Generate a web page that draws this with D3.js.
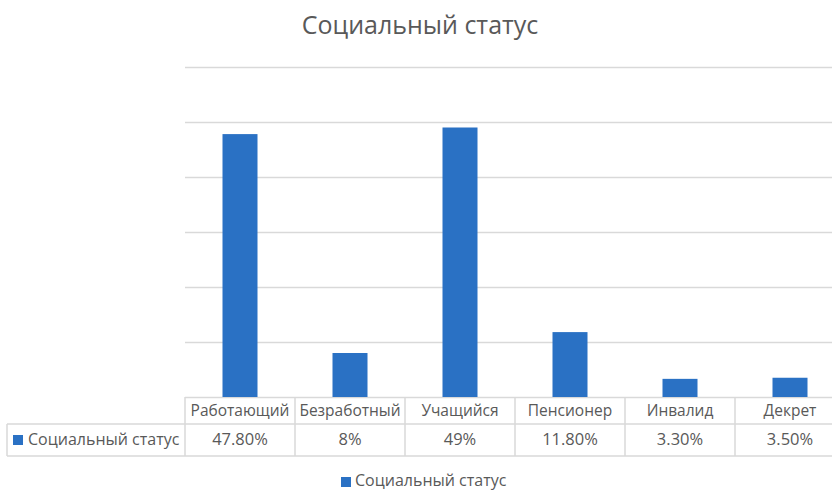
<!DOCTYPE html>
<html>
<head>
<meta charset="utf-8">
<script src="https://cdn.jsdelivr.net/npm/d3@7"></script>
<style>
body{margin:0;background:#fff;}
text{font-family:"Open Sans",Lato,sans-serif;fill:#595959;}
</style>
</head>
<body>
<div id="plot"></div>
<script>
var categories = ['Работающий','Безработный','Учащийся','Пенсионер','Инвалид','Декрет'];
var values = [47.8, 8, 49, 11.8, 3.3, 3.5];
var valueLabels = ['47.80%','8%','49%','11.80%','3.30%','3.50%'];
var seriesName = 'Социальный статус';
var yTicks = [0,10,20,30,40,50,60];

var W = 832, H = 490;
var m = {t:67, l:185, r:-13, b:93};
var width = W - m.l - m.r, height = H - m.t - m.b;
var color = '#2a71c4', lineColor = '#d9d9d9';

var svg = d3.select('#plot').append('svg')
	.attr('width',W).attr('height',H);

svg.append('text')
	.attr('x',420).attr('y',34)
	.attr('text-anchor','middle')
	.style('font-size','25px')
	.text(seriesName);

var plot = svg.append('g').attr('transform','translate('+m.l+','+m.t+')');

var x = d3.scaleBand().domain(categories).range([0,width]);
var y = d3.scaleLinear().domain([0,60]).range([height,0]);

//gridlines
plot.selectAll('.grid').data(yTicks).enter().append('line')
	.attr('x1',0).attr('x2',width)
	.attr('y1',function(d){return y(d)+0.5;})
	.attr('y2',function(d){return y(d)+0.5;})
	.style('stroke',lineColor).style('stroke-width',1.5);

var bw = 35;
plot.selectAll('.bar').data(values).enter().append('rect')
	.attr('x',function(d,i){return x(categories[i])+x.bandwidth()/2-bw/2;})
	.attr('y',function(d){return y(d);})
	.attr('width',bw)
	.attr('height',function(d){return y(0)-y(d);})
	.style('fill',color);

//data table
var rowH1 = 27, rowH2 = 32;
var t0 = m.t + height;
var table = svg.append('g');
var tl = 7;
// horizontal lines
table.append('line').attr('x1',tl).attr('x2',W).attr('y1',t0+rowH1).attr('y2',t0+rowH1)
	.style('stroke',lineColor).style('stroke-width',1.5);
table.append('line').attr('x1',tl).attr('x2',W).attr('y1',t0+rowH1+rowH2).attr('y2',t0+rowH1+rowH2)
	.style('stroke',lineColor).style('stroke-width',1.5);
table.append('line').attr('x1',tl).attr('x2',tl).attr('y1',t0+rowH1).attr('y2',t0+rowH1+rowH2)
	.style('stroke',lineColor).style('stroke-width',1.5);
// vertical dividers
var edges = categories.map(function(c){return m.l + x(c);}).concat([m.l+width]);
table.selectAll('.vline').data(edges).enter().append('line')
	.attr('x1',function(d){return d;}).attr('x2',function(d){return d;})
	.attr('y1',t0).attr('y2',t0+rowH1+rowH2)
	.style('stroke',lineColor).style('stroke-width',1.5);

table.selectAll('.cat').data(categories).enter().append('text')
	.attr('x',function(d){return m.l + x(d) + x.bandwidth()/2;})
	.attr('y',t0+19)
	.attr('text-anchor','middle')
	.style('font-size','15.5px')
	.text(function(d){return d;});

table.selectAll('.val').data(valueLabels).enter().append('text')
	.attr('x',function(d,i){return m.l + x(categories[i]) + x.bandwidth()/2;})
	.attr('y',t0+rowH1+21)
	.attr('text-anchor','middle')
	.style('font-size','16.5px')
	.text(function(d){return d;});

table.append('rect').attr('x',13).attr('y',t0+rowH1+11).attr('width',10).attr('height',10).style('fill',color);
table.append('text').attr('x',28).attr('y',t0+rowH1+21)
	.style('font-size','16px').text(seriesName);

//legend
var legend = svg.append('g');
legend.append('rect').attr('x',341).attr('y',477).attr('width',10).attr('height',10).style('fill',color);
legend.append('text').attr('x',355).attr('y',486).style('font-size','16px').text(seriesName);
</script>
</body>
</html>
